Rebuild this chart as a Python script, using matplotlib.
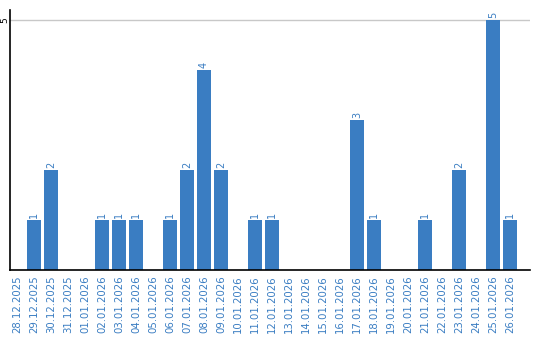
import matplotlib
matplotlib.use("Agg")
import matplotlib.pyplot as plt

# daily counts
dates = ["28.12.2025", "29.12.2025", "30.12.2025", "31.12.2025", "01.01.2026",
         "02.01.2026", "03.01.2026", "04.01.2026", "05.01.2026", "06.01.2026",
         "07.01.2026", "08.01.2026", "09.01.2026", "10.01.2026", "11.01.2026",
         "12.01.2026", "13.01.2026", "14.01.2026", "15.01.2026", "16.01.2026",
         "17.01.2026", "18.01.2026", "19.01.2026", "20.01.2026", "21.01.2026",
         "22.01.2026", "23.01.2026", "24.01.2026", "25.01.2026", "26.01.2026"]
counts = [0, 1, 2, 0, 0, 1, 1, 1, 0, 1, 2, 4, 2, 0, 1,
          1, 0, 0, 0, 0, 3, 1, 0, 0, 1, 0, 2, 0, 5, 1]

BLUE = "#3a7dc2"

fig = plt.figure(figsize=(5.4, 3.4), dpi=100)
ax = fig.add_axes([10 / 540, 70 / 340, 520 / 540, 260 / 340])

x = list(range(len(dates)))
ax.bar(x, counts, width=0.82, color=BLUE, zorder=2)

# value labels above non-empty bars
for xi, c in zip(x, counts):
    if c > 0:
        ax.text(xi, c + 0.04, str(c), rotation=90, ha="center", va="bottom",
                fontsize=7, color=BLUE)

ax.set_xlim(-0.41, 30.18)
ax.set_ylim(0, 5.2)
ax.set_xticks(x)
ax.set_xticklabels(dates, rotation=90, fontsize=7.3, color=BLUE)
ax.set_yticks([5])
ax.set_yticklabels(["5"], rotation=90, fontsize=6.5, va="center")
ax.tick_params(axis="x", length=0, pad=4)
ax.tick_params(axis="y", length=0, pad=0.5)
ax.yaxis.grid(True, color="#c8c8c8", linewidth=1, zorder=0)

for side in ["top", "right"]:
    ax.spines[side].set_visible(False)
ax.spines["left"].set_color("black")
ax.spines["bottom"].set_color("black")
ax.spines["left"].set_linewidth(1.2)
ax.spines["bottom"].set_linewidth(1.2)

fig.savefig("out.png", dpi=100)
